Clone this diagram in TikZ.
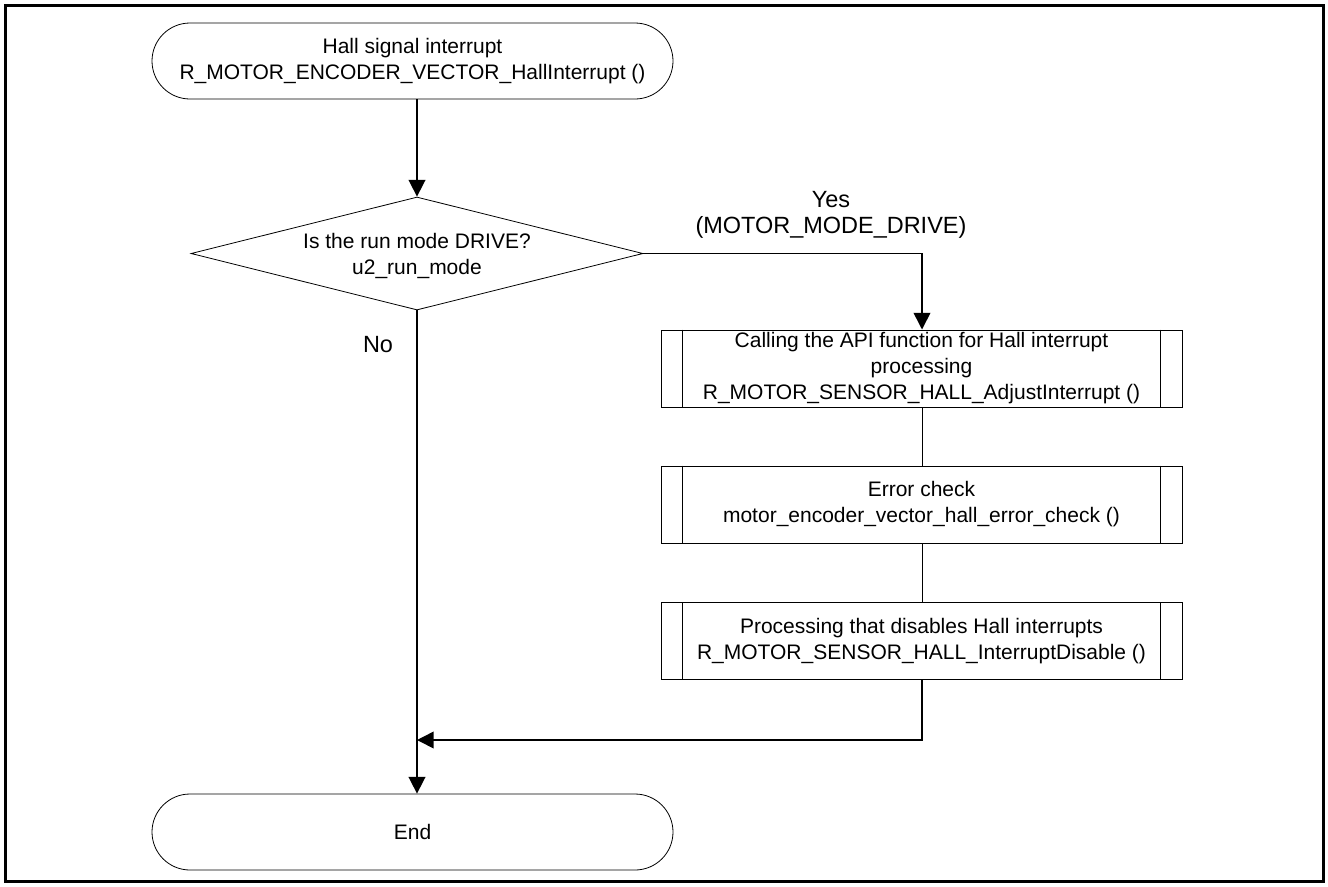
\documentclass[tikz,border=0pt]{standalone}
\usepackage{fontspec}
\setmainfont{Liberation Sans}
\usetikzlibrary{shapes.geometric,arrows.meta}
\begin{document}
\begin{tikzpicture}[x=0.75pt,y=-0.75pt,
  every node/.style={font=\fontsize{15.75pt}{19.5pt}\selectfont},
  term/.style={draw,line width=0.6pt,rectangle,rounded corners=28.5pt,minimum width=390.75pt,minimum height=57pt,inner sep=0pt,align=center},
  subp/.style={draw,line width=0.75pt,rectangle,minimum width=390.75pt,minimum height=57.75pt,inner sep=0pt,align=center},
  dec/.style={draw,line width=0.6pt,diamond,minimum width=339pt,minimum height=84.75pt,inner sep=0pt},
  txt/.style={align=center,inner sep=0pt},
  lbl/.style={align=center,inner sep=0pt,font=\fontsize{17.6pt}{19.5pt}\selectfont},
  flow/.style={line width=1.2pt,-{Triangle[length=12.5pt,width=12.5pt]}},
  link/.style={line width=0.75pt}
]
\useasboundingbox (0,0) rectangle (1328,886);
\draw[line width=2.25pt] (5,5) rectangle (1323.5,881);

\node[term] (start) at (412.5,61) {Hall signal interrupt\\R\_MOTOR\_ENCODER\_VECTOR\_HallInterrupt ()};
\node[dec] (d) at (417,253.5) {};
\node[txt] (dt) at (417,256) {Is the run mode DRIVE?\\u2\_run\_mode};
\node[subp] (b1) at (921.5,368.5) {Calling the API function for Hall interrupt\\processing\\R\_MOTOR\_SENSOR\_HALL\_AdjustInterrupt ()};
\node[subp] (b2) at (921.5,504.5) {Error check\\motor\_encoder\_vector\_hall\_error\_check ()};
\node[subp] (b3) at (921.5,641) {Processing that disables Hall interrupts\\R\_MOTOR\_SENSOR\_HALL\_InterruptDisable ()};
\node[term] (end) at (412.5,832) {End};

\foreach \b in {b1,b2,b3}{
  \draw[link] ([xshift=16.5pt]\b.north west) -- ([xshift=16.5pt]\b.south west);
  \draw[link] ([xshift=-16.5pt]\b.north east) -- ([xshift=-16.5pt]\b.south east);
}

\coordinate (ycorner) at (922,253.5);
\coordinate (m1) at (922,740);
\coordinate (m2) at (417,740);

\draw[flow] (417,99) -- (d.north);
\draw[flow] (d.east) -- (ycorner) -- (b1.north -| ycorner);
\draw[link] (b1.south -| ycorner) -- (b2.north -| ycorner);
\draw[link] (b2.south -| ycorner) -- (b3.north -| ycorner);
\draw[flow] (b3.south -| m1) -- (m1) -- (m2);
\draw[flow] (d.south) -- (d.south |- end.north);

\node[lbl] (yes) at (831,215) {Yes\\(MOTOR\_MODE\_DRIVE)};
\node[lbl] (no) at (378,345) {No};
\end{tikzpicture}
\end{document}
